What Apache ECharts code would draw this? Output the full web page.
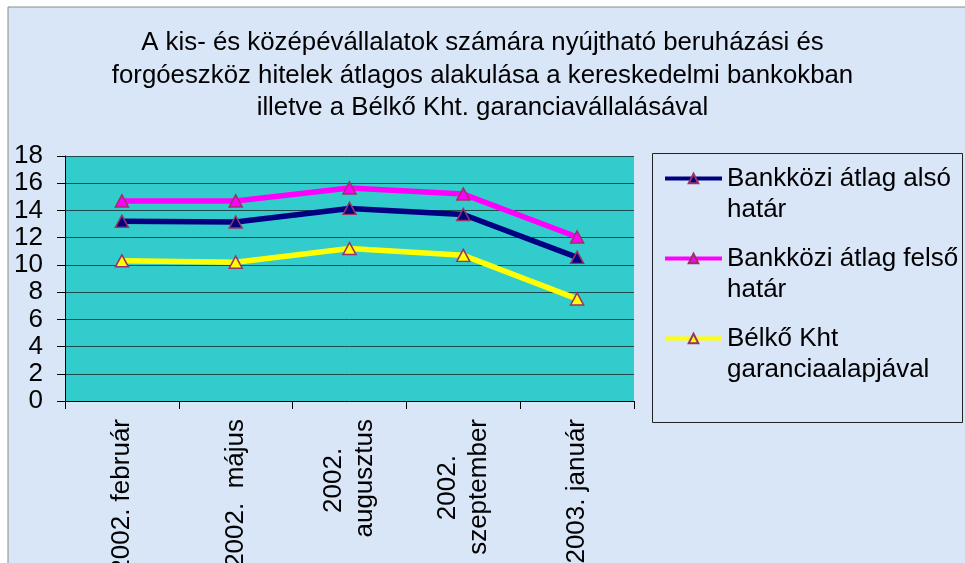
<!DOCTYPE html>
<html>
<head>
<meta charset="utf-8">
<script src="https://cdn.jsdelivr.net/npm/echarts@6/dist/echarts.min.js"></script>
<style>
html,body{margin:0;padding:0;background:#ffffff;}
#chart{width:965px;height:563px;}
</style>
</head>
<body>
<div id="chart"></div>
<script>
var titleText = 'A kis- és középévállalatok számára nyújtható beruházási és\nforgóeszköz hitelek átlagos alakulása a kereskedelmi bankokban\nilletve a Bélkő Kht. garanciavállalásával';
var categories = ['2002. február', '2002.  május', '2002.\naugusztus', '2002.\nszeptember', '2003. január'];
var seriesNames = ['Bankközi átlag alsó\nhatár', 'Bankközi átlag felső\nhatár', 'Bélkő Kht\ngaranciaalapjával'];
var alsoHatar = [13.2, 13.15, 14.15, 13.7, 10.55];
var felsoHatar = [14.7, 14.7, 15.65, 15.2, 12.05];
var belko = [10.3, 10.2, 11.2, 10.7, 7.5];
var yTicks = [0, 2, 4, 6, 8, 10, 12, 14, 16, 18];

var colors = ['#000080', '#FF00FF', '#FFFF00'];
var FONT = '"Liberation Sans", Arial, sans-serif';
var XFS = 26;

var measureCtx = document.createElement('canvas').getContext('2d');
measureCtx.font = XFS + 'px ' + FONT;
function tw(s) { return measureCtx.measureText(s).width; }
var NBSP = '\u00a0';

// centre the lines of multi-line category labels (rotated, right-aligned block)
function centreLines(v) {
  var lines = v.split('\n');
  if (lines.length === 1) return v;
  var maxW = 0;
  lines.forEach(function (s) { maxW = Math.max(maxW, tw(s)); });
  var sp = tw(NBSP);
  return lines.map(function (s) {
    var n = Math.round((maxW - tw(s)) / 2 / sp);
    return s + new Array(n + 1).join(NBSP);
  }).join('\n');
}

var chart = echarts.init(document.getElementById('chart'), null, {renderer: 'canvas'});

function mkSeries(name, data, color) {
  return {
    name: name,
    type: 'line',
    data: data,
    symbol: 'triangle',
    symbolSize: [13, 12],
    lineStyle: {color: color, width: 5.5},
    itemStyle: {color: color, borderColor: '#993366', borderWidth: 1.5},
    emphasis: {disabled: true},
    z: 3
  };
}

var option = {
  animation: false,
  backgroundColor: '#ffffff',
  graphic: [
    {type: 'rect', shape: {x: 8, y: 7, width: 970, height: 570},
     style: {fill: '#d9e6f8', stroke: '#8a8a8a', lineWidth: 1}, z: -10, silent: true},
    {type: 'rect', shape: {x: 652.5, y: 153.5, width: 310, height: 269},
     style: {fill: 'none', stroke: '#222222', lineWidth: 1}, z: 10, silent: true}
  ],
  title: {
    text: titleText,
    left: 'center',
    top: 22,
    textStyle: {fontFamily: FONT, fontSize: 25.8, fontWeight: 'normal', color: '#000', lineHeight: 32.5}
  },
  legend: {
    orient: 'vertical',
    left: 663,
    top: 132,
    itemWidth: 57,
    itemHeight: 12,
    itemGap: -13,
    padding: 0,
    data: seriesNames,
    lineStyle: {width: 4},
    formatter: function (n) { return ' \n' + n; },
    textStyle: {fontFamily: FONT, fontSize: 26, color: '#000', lineHeight: 31}
  },
  grid: {
    left: 65, top: 156, right: 331, bottom: 162,
    outerBoundsMode: 'none', containLabel: false,
    show: true, backgroundColor: '#33CCCC', borderWidth: 0
  },
  xAxis: {
    type: 'category',
    data: categories,
    boundaryGap: true,
    axisLine: {lineStyle: {color: '#000', width: 1}},
    axisTick: {show: true, length: 8, lineStyle: {color: '#000'}, alignWithLabel: false},
    axisLabel: {
      rotate: 90,
      margin: 18,
      interval: 0,
      hideOverlap: false,
      fontFamily: FONT,
      fontSize: XFS,
      color: '#000',
      lineHeight: 31,
      formatter: function (v) { return centreLines(v); }
    }
  },
  yAxis: {
    type: 'value',
    min: 0,
    max: 18,
    interval: 2,
    axisLine: {show: true, lineStyle: {color: '#000', width: 1}},
    axisTick: {show: true, length: 8, lineStyle: {color: '#000'}},
    axisLabel: {
      margin: 22,
      showMinLabel: true,
      showMaxLabel: true,
      hideOverlap: false,
      fontFamily: FONT,
      fontSize: 26,
      color: '#000',
      formatter: function (v) { return yTicks.indexOf(v) >= 0 ? String(v) : ''; }
    },
    splitLine: {show: true, lineStyle: {color: '#1e4b4b', width: 1}}
  },
  series: [
    mkSeries(seriesNames[0], alsoHatar, colors[0]),
    mkSeries(seriesNames[1], felsoHatar, colors[1]),
    mkSeries(seriesNames[2], belko, colors[2])
  ]
};

chart.setOption(option);
</script>
</body>
</html>
